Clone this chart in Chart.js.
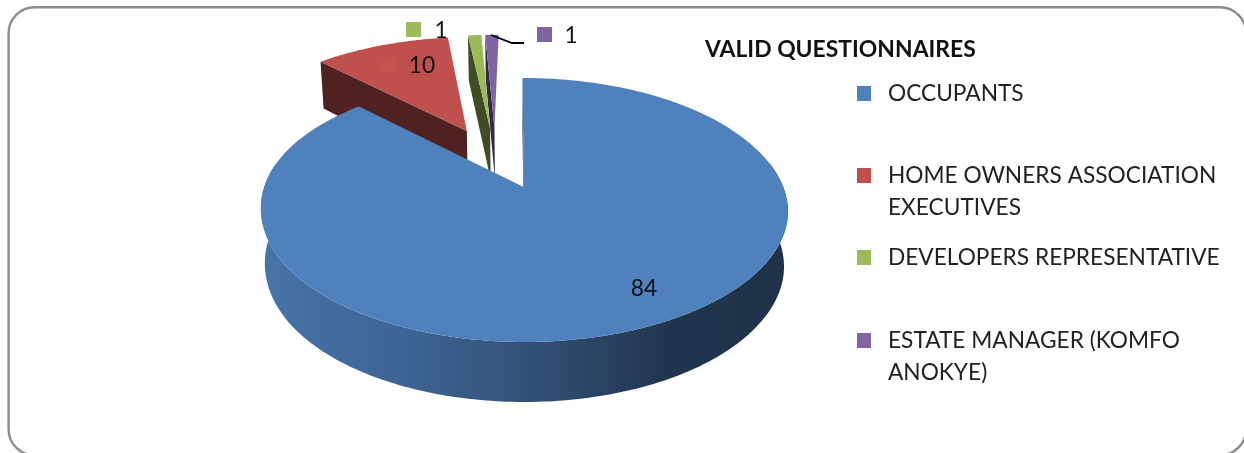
<!DOCTYPE html>
<html>
<head>
<meta charset="utf-8">
<title>Valid questionnaires</title>
<script src="https://cdn.jsdelivr.net/npm/chart.js@4"></script>
<style>
  html, body { margin: 0; padding: 0; background: #fff; overflow: hidden; }
  canvas { display: block; }
</style>
</head>
<body>
<canvas id="pieChart" width="1244" height="453"></canvas>
<script>
const chartTitle = 'VALID QUESTIONNAIRES';
const categories = ['OCCUPANTS', 'HOME OWNERS ASSOCIATION EXECUTIVES', 'DEVELOPERS REPRESENTATIVE', 'ESTATE MANAGER (KOMFO ANOKYE)'];
const legendLines = [['OCCUPANTS'], ['HOME OWNERS ASSOCIATION', 'EXECUTIVES'], ['DEVELOPERS REPRESENTATIVE'], ['ESTATE MANAGER (KOMFO', 'ANOKYE)']];
const values = [84, 10, 1, 1];
const colors = ['#4F81BD', '#C0504D', '#9BBB59', '#8064A2'];

// layout of the text around the pie
const legendKeyX = 857, legendTextX = 888;
const legendRowY = [93, 175, 257, 340];
const legendLineHeight = 32;
const labelTextX = [644, 422, 441, 571];
const labelTextY = [289, 66, 31, 36];
const labelKeyX = [null, 382, 406, 537];
const labelKeyY = [null, 58, 22, 27];
const textFont = '22.7px Lato, "Open Sans", sans-serif';

// tilted view: disc coordinates -> screen, with the front nearer to the viewer
const explodeU = 0.28, explodeV = 0.26;
const tipU = 0.1188, tipV = -0.2402;
const viewX = 525, viewY = 187, radiusX = 259.5, radiusY = 128, persp = 0.174;

function project(u, v, lower) {
  const U = u - tipU, V = v - tipV;
  const s = 1 / (1 + persp * V);
  // front half sits a little to the right of the back half
  const t = Math.min(1, Math.max(0, (0.5 - V) / 0.9));
  let x = viewX + radiusX * U * s + 3 * t * t * (3 - 2 * t);
  let y = viewY - radiusY * V * s;
  if (lower) {
    x = viewX + (x - viewX) * 0.985;
    y += 54 - 6 * V;
  }
  return [x, y];
}

function shade(hex, f) {
  const n = parseInt(hex.slice(1), 16);
  return `rgb(${Math.round((n >> 16) * f)},${Math.round(((n >> 8) & 255) * f)},${Math.round((n & 255) * f)})`;
}

function fillPoly(ctx, pts, fill) {
  ctx.beginPath();
  pts.forEach((p, i) => (i ? ctx.lineTo(p[0], p[1]) : ctx.moveTo(p[0], p[1])));
  ctx.closePath();
  ctx.fillStyle = fill;
  ctx.fill();
}

class Arc3D extends Chart.ArcElement {
  static id = 'arc3d';

  draw(ctx) {
    const { startAngle, endAngle } = this;
    const base = this.options.backgroundColor;
    const mid = (startAngle + endAngle) / 2;
    const ou = Math.cos(mid) * explodeU, ov = -Math.sin(mid) * explodeV;
    const at = (a, r, lower) => project(ou + Math.cos(a) * r, ov - Math.sin(a) * r, lower);

    const steps = Math.max(4, Math.ceil((endAngle - startAngle) * 60));
    const angles = [];
    for (let i = 0; i <= steps; i++) angles.push(startAngle + (endAngle - startAngle) * i / steps);

    // flat side that shows below the start edge of the slice
    const side = shade(base, 0.41);
    fillPoly(ctx, [at(startAngle, 0), at(startAngle, 1), at(startAngle, 1, true), at(startAngle, 0, true)], side);

    // outer wall, only where it faces the viewer
    const front = angles.filter(a => Math.sin(a) > -0.2);
    if (front.length > 1) {
      const grad = ctx.createLinearGradient(261, 0, 788, 0);
      grad.addColorStop(0, shade(base, 0.9));
      grad.addColorStop(0.3, shade(base, 0.76));
      grad.addColorStop(0.55, shade(base, 0.6));
      grad.addColorStop(0.78, shade(base, 0.41));
      grad.addColorStop(1, shade(base, 0.39));
      const pts = front.map(a => at(a, 1)).concat(front.slice().reverse().map(a => at(a, 1, true)));
      fillPoly(ctx, pts, grad);
    }

    // top face
    fillPoly(ctx, [at(startAngle, 0)].concat(angles.map(a => at(a, 1))), base);
  }
}

class Pie3D extends Chart.PieController {
  static id = 'pie3d';
  static defaults = { dataElementType: 'arc3d' };

  // back slices first, the big front slice has to overlap them
  draw() {
    const meta = this._cachedMeta;
    meta.data.slice().reverse().forEach(el => el.draw(this.chart.ctx, this.chart.chartArea));
  }
}

Chart.register(Pie3D, Arc3D);

const frameAndText = {
  id: 'frameAndText',
  beforeDraw(chart) {
    const ctx = chart.ctx;
    ctx.save();
    ctx.fillStyle = '#fff';
    ctx.fillRect(0, 0, chart.width, chart.height);
    // the frame runs off the picture on the right and at the bottom
    ctx.strokeStyle = '#8c8c8c';
    ctx.lineWidth = 2.4;
    ctx.beginPath();
    ctx.roundRect(8.6, 7.2, 1237.4, 448, 26);
    ctx.stroke();
    ctx.restore();
  },
  afterDatasetsDraw(chart) {
    const ctx = chart.ctx;
    ctx.save();
    ctx.textBaseline = 'middle';

    // leader line of the last label
    ctx.strokeStyle = '#000';
    ctx.lineWidth = 1.8;
    ctx.beginPath();
    ctx.moveTo(491, 35);
    ctx.lineTo(512, 43);
    ctx.lineTo(524, 43);
    ctx.stroke();

    // data labels with their small keys
    ctx.font = textFont;
    ctx.textAlign = 'center';
    values.forEach((val, i) => {
      if (labelKeyX[i] !== null) {
        ctx.fillStyle = i === 1 ? '#C3534F' : colors[i];
        ctx.fillRect(labelKeyX[i], labelKeyY[i], 15, 15);
      }
      ctx.fillStyle = '#111';
      ctx.fillText(String(val), labelTextX[i], labelTextY[i]);
    });

    // title and legend
    ctx.textAlign = 'left';
    ctx.font = 'bold 22.9px Lato, "Open Sans", sans-serif';
    ctx.fillStyle = '#111';
    ctx.fillText(chartTitle, 705, 50);

    ctx.font = textFont;
    legendLines.forEach((lines, i) => {
      ctx.fillStyle = colors[i];
      ctx.fillRect(legendKeyX, legendRowY[i] - 7, 14, 15);
      ctx.fillStyle = '#222';
      lines.forEach((line, j) => ctx.fillText(line, legendTextX, legendRowY[i] + 1 + j * legendLineHeight));
    });
    ctx.restore();
  }
};

new Chart(document.getElementById('pieChart').getContext('2d'), {
  type: 'pie3d',
  data: {
    labels: categories,
    datasets: [{
      data: values,
      backgroundColor: colors,
      borderWidth: 0
    }]
  },
  options: {
    responsive: false,
    animation: false,
    devicePixelRatio: 1,
    events: [],
    plugins: {
      legend: { display: false },
      title: { display: false },
      tooltip: { enabled: false }
    }
  },
  plugins: [frameAndText]
});
</script>
</body>
</html>
